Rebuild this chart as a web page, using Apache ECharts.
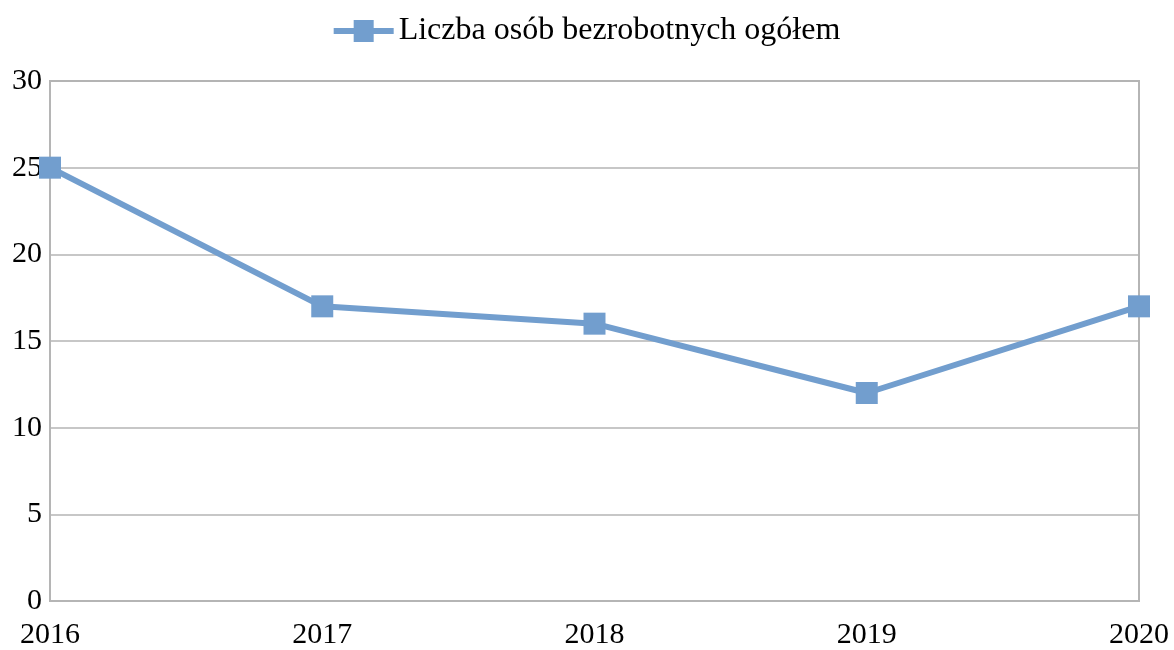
<!DOCTYPE html>
<html><head><meta charset="utf-8">
<script src="https://cdn.jsdelivr.net/npm/echarts@6/dist/echarts.min.js"></script>
<style>html,body{margin:0;padding:0;background:#fff}#c{width:1174px;height:650px}</style>
</head><body><div id="c"></div>
<script>
const categories = ['2016', '2017', '2018', '2019', '2020'];
const seriesName = 'Liczba osób bezrobotnych ogółem';
const values = [25, 17, 16, 12, 17];
const font = '"Liberation Serif", "Times New Roman", serif';
const chart = echarts.init(document.getElementById('c'), null, {renderer: 'canvas'});
chart.setOption({
  animation: false,
  backgroundColor: '#fff',
  legend: {
    top: 10, left: 'center',
    itemWidth: 60, itemHeight: 22, itemGap: 8,
    textStyle: {fontFamily: font, fontSize: 32, color: '#000'},
    data: [{name: seriesName, icon: 'path://M0,8 L20,8 L20,0 L40,0 L40,8 L60,8 L60,14 L40,14 L40,22 L20,22 L20,14 L0,14 Z'}]
  },
  grid: {left: 50, right: 35, top: 81, bottom: 49, show: true, borderColor: '#b5b5b5', borderWidth: 2, backgroundColor: 'transparent'},
  xAxis: {
    type: 'category', data: categories, boundaryGap: false,
    axisLine: {lineStyle: {color: '#b5b5b5', width: 2}},
    axisTick: {show: false},
    axisLabel: {fontFamily: font, fontSize: 30, color: '#000', margin: 19},
    splitLine: {show: false}
  },
  yAxis: {
    type: 'value', min: 0, max: 30, interval: 5,
    axisLine: {show: true, lineStyle: {color: '#b5b5b5', width: 2}},
    axisTick: {show: false},
    axisLabel: {fontFamily: font, fontSize: 30, color: '#000', margin: 8},
    splitLine: {lineStyle: {color: '#b5b5b5', width: 1.5}}
  },
  series: [{
    name: seriesName, type: 'line', data: values,
    symbol: 'rect', symbolSize: 22,
    lineStyle: {color: '#729ECE', width: 6},
    itemStyle: {color: '#729ECE'},
    clip: false
  }]
});
</script></body></html>
